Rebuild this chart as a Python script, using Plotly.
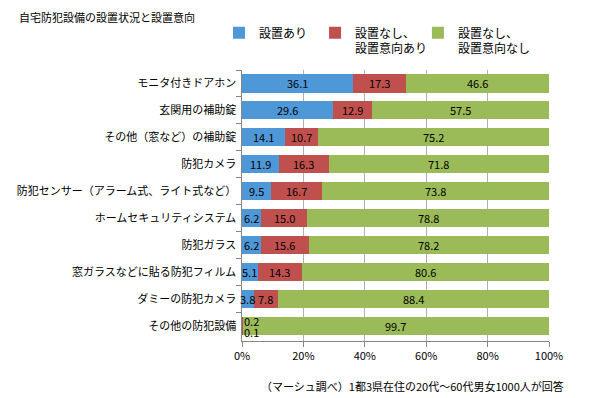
import plotly.graph_objects as go

categories = ["モニタ付きドアホン", "玄関用の補助錠", "その他（窓など）の補助錠", "防犯カメラ",
              "防犯センサー（アラーム式、ライト式など）", "ホームセキュリティシステム", "防犯ガラス",
              "窓ガラスなどに貼る防犯フィルム", "ダミーの防犯カメラ", "その他の防犯設備"]
installed = [36.1, 29.6, 14.1, 11.9, 9.5, 6.2, 6.2, 5.1, 3.8, 0.2]
not_installed_intend = [17.3, 12.9, 10.7, 16.3, 16.7, 15.0, 15.6, 14.3, 7.8, 0.1]
not_installed_no_intend = [46.6, 57.5, 75.2, 71.8, 73.8, 78.8, 78.2, 80.6, 88.4, 99.7]
series_names = ["設置あり", "設置なし、<br>設置意向あり", "設置なし、<br>設置意向なし"]
colors = ["#4F98D8", "#C0504D", "#9BBB59"]
xticks = [0, 20, 40, 60, 80, 100]
xtick_labels = ["0%", "20%", "40%", "60%", "80%", "100%"]

FONT = "Noto Sans CJK JP"
fig = go.Figure()
all_vals = [installed, not_installed_intend, not_installed_no_intend]
legend_ids = ["legend", "legend2", "legend3"]
for name, vals, c, lg in zip(series_names, all_vals, colors, legend_ids):
    fig.add_trace(go.Bar(y=categories, x=vals, name=name, orientation="h", legend=lg,
                         marker=dict(color=c, line=dict(width=0))))

# data labels
for i, cat in enumerate(categories):
    cum = 0
    for s, vals in enumerate(all_vals):
        v = vals[i]
        xc = cum + v / 2
        yshift = 0
        xanchor = "center"
        if v < 1:
            xc = 0
            xanchor = "left"
            yshift = 5 if s == 0 else -6
        fig.add_annotation(x=xc, y=cat, text=f"{v:.1f}", showarrow=False,
                           xanchor=xanchor, yshift=yshift,
                           font=dict(family=FONT, size=11, color="#000000"))
        cum += v

def leg(x):
    return dict(orientation="h", x=x, xanchor="left", y=1.19, yanchor="top",
                itemwidth=30, valign="top", bgcolor="rgba(0,0,0,0)",
                font=dict(family=FONT, size=12, color="#000000"))

fig.update_layout(
    barmode="stack", bargap=0.33,
    width=592, height=390,
    margin=dict(l=234, r=51, t=62, b=57, autoexpand=False),
    paper_bgcolor="white", plot_bgcolor="white",
    font=dict(family=FONT, size=11, color="#000000"),
    legend=leg(-0.075), legend2=leg(0.238), legend3=leg(0.573),
    showlegend=True,
)
fig.add_annotation(text="自宅防犯設備の設置状況と設置意向", xref="paper", yref="paper",
                   x=-0.733, xanchor="left", y=1.196, yanchor="middle", showarrow=False,
                   font=dict(family=FONT, size=11, color="#000000"))
fig.update_xaxes(range=[0, 100], tickvals=xticks, ticktext=xtick_labels,
                 showgrid=True, gridcolor="#B0B0B0", gridwidth=1,
                 showline=True, linecolor="#868686", ticks="outside", ticklen=5, tickcolor="#868686",
                 tickfont=dict(family=FONT, size=11), zeroline=False, automargin=False)
fig.update_yaxes(autorange="reversed", showline=True, linecolor="#868686",
                 ticks="outside", ticklen=5, tickcolor="#868686", tickson="boundaries",
                 tickfont=dict(family=FONT, size=11), ticksuffix=" ", automargin=False)
fig.add_annotation(text="（マーシュ調べ）1都3県在住の20代～60代男女1000人が回答", xref="paper", yref="paper",
                   x=1.055, xanchor="right", y=-0.165, yanchor="middle", showarrow=False,
                   font=dict(family=FONT, size=11, color="#000000"))
fig.write_html("out.html")
